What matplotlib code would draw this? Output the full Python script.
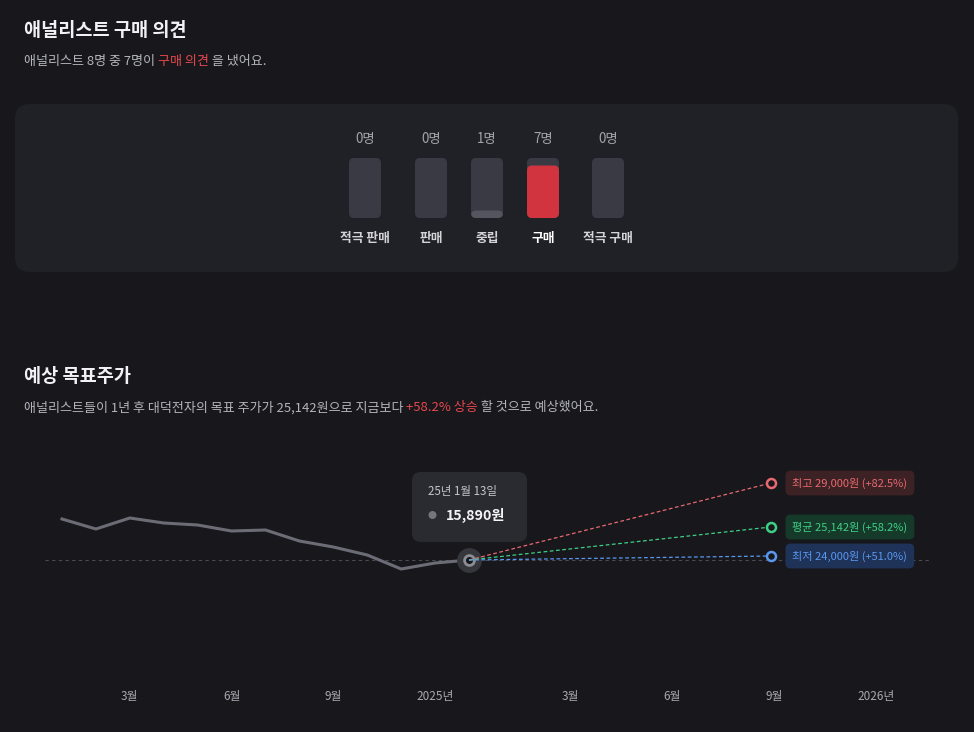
import numpy as np
import matplotlib
matplotlib.use("Agg")
import matplotlib.pyplot as plt
from matplotlib.patches import FancyBboxPatch, Circle
from matplotlib.scale import FuncScale
from matplotlib.text import Annotation

plt.rcParams['font.family'] = ['Noto Sans CJK KR', 'DejaVu Sans']

# ---- 데이터 ----
opinion_labels = ['적극 판매', '판매', '중립', '구매', '적극 구매']
opinion_counts = [0, 0, 1, 7, 0]
analyst_total = 8

month_idx = np.arange(13)
prices = [18760, 18060, 18830, 18480, 18340, 17920, 17990,
          17220, 16800, 16240, 15260, 15680, 15890]
last_date = '25년 1월 13일'

target_names = ['최고', '평균', '최저']
target_values = [29000, 25142, 24000]
target_pct = [82.5, 58.2, 51.0]

tick_pos = [2, 5, 8, 11, 15, 18, 21, 24]
tick_labels = ['3월', '6월', '9월', '2025년', '3월', '6월', '9월', '2026년']

# ---- 스타일 ----
BG = '#17171c'
CARD = '#202027'
W, H = 974, 732

def fx(px):
    return px / W

def fy(py):
    return 1 - py / H

fig = plt.figure(figsize=(9.74, 7.32), dpi=100, facecolor=BG)

def colored_line(x, y, parts, size, weight='normal'):
    prev = fig.text(fx(x), fy(y), parts[0][0], color=parts[0][1],
                    fontsize=size, weight=weight, va='center', ha='left')
    for txt, col in parts[1:]:
        prev = fig.add_artist(Annotation(txt, xy=(1, 0.5), xycoords=prev,
                                         va='center', ha='left', color=col,
                                         fontsize=size, weight=weight))
    return prev

# ---- 구매 의견 섹션 ----
fig.text(fx(24), fy(30), '애널리스트 구매 의견', fontsize=13.4, weight='bold',
         color='#f2f2f4', va='center')
buy_n = opinion_counts[3]
colored_line(24, 61, [(f'애널리스트 {analyst_total}명 중 {buy_n}명이 ', '#b4b4bc'),
                      ('구매 의견', '#e5484d'),
                      (' 을 냈어요.', '#b4b4bc')], 9.4)

card = FancyBboxPatch((0.15, (H - 272) / 100), 9.43, 1.68,
                      boxstyle='round,pad=0,rounding_size=0.15',
                      transform=fig.dpi_scale_trans, fc=CARD, ec='none', zorder=-1)
fig.patches.append(card)

slot_x = [365, 431, 487, 543, 608]
bar_w = 32
axb = fig.add_axes([fx(300), fy(218), fx(380), (218 - 158) / H])
axb.set_xlim(300, 680)
axb.set_ylim(0, analyst_total)
axb.axis('off')
aspect = analyst_total / 60.0
top_i = int(np.argmax(opinion_counts))
for i, (xc, n, lab) in enumerate(zip(slot_x, opinion_counts, opinion_labels)):
    axb.add_patch(FancyBboxPatch((xc - bar_w / 2, 0), bar_w, analyst_total,
                                 boxstyle='round,pad=0,rounding_size=5',
                                 mutation_aspect=aspect, fc='#3a3a44', ec='none'))
    if n > 0:
        col = '#d1333f' if i == top_i else '#55555f'
        axb.add_patch(FancyBboxPatch((xc - bar_w / 2, 0), bar_w, n,
                                     boxstyle='round,pad=0,rounding_size=5',
                                     mutation_aspect=aspect, fc=col, ec='none'))
    axb.annotate(f'{n}명', (xc, analyst_total), xytext=(0, 14), textcoords='offset points',
                 ha='center', va='center', fontsize=9.6, color='#a4a4ac',
                 annotation_clip=False)
    axb.annotate(lab, (xc, 0), xytext=(0, -15), textcoords='offset points',
                 ha='center', va='center', fontsize=9.2, weight='bold',
                 color='#ffffff' if i == top_i else '#d4d4d8', annotation_clip=False)

# ---- 목표주가 섹션 ----
fig.text(fx(24), fy(376), '예상 목표주가', fontsize=13.4, weight='bold',
         color='#f2f2f4', va='center')
avg = target_values[1]
colored_line(24, 408, [(f'애널리스트들이 1년 후 대덕전자의 목표 주가가 {avg:,}원으로 지금보다 ', '#b4b4bc'),
                       (f'+{target_pct[1]}% 상승', '#e5484d'),
                       (' 할 것으로 예상했어요.', '#b4b4bc')], 9.4)

ax = fig.add_axes([fx(45), fy(682), fx(930 - 45), (682 - 440) / H])
ax.set_facecolor('none')
px_month = (469 - 62) / 12.0
ax.set_xlim((45 - 62) / px_month, (930 - 62) / px_month)
won_px = 70.0
cur = prices[-1]
ax.set_ylim(cur - 122 * won_px, cur + 120 * won_px)
for s in ax.spines.values():
    s.set_visible(False)
ax.set_yticks([])
ax.set_xticks(tick_pos)
ax.set_xticklabels(tick_labels)
ax.tick_params(axis='x', length=0, pad=6, labelsize=8.5, labelcolor='#a8a8b0')

ax.axhline(cur, color='#4a4a52', lw=0.8, dashes=(3, 3), zorder=1)
ax.plot(month_idx, prices, color='#6c6c76', lw=2.2, zorder=3, solid_joinstyle='round')

# 목표가 쪽은 원본처럼 압축된 세로 눈금을 사용
knot_v = [0, cur, target_values[2], target_values[1], target_values[0], 100000]
knot_u = [-cur / won_px, 0, 4, 33, 77, 77 + (100000 - target_values[0]) / won_px]
fwd = lambda v: np.interp(v, knot_v, knot_u)
inv = lambda u: np.interp(u, knot_u, knot_v)
ax2 = ax.twinx()
ax2.set_yscale(FuncScale(ax2, (fwd, inv)))
ax2.set_ylim(inv(-122), inv(120))
ax2.axis('off')

target_x = 20.9
colors = ['#e8696f', '#3fcf86', '#5a98f0']
box_fc = ['#3c2224', '#163a29', '#1f3257']
for name, v, p, c, bfc in zip(target_names, target_values, target_pct, colors, box_fc):
    ax2.plot([month_idx[-1], target_x], [cur, v], color=c, lw=0.9, dashes=(3, 2), zorder=2)
    ax2.scatter([target_x], [v], s=42, facecolor=BG, edgecolor=c, linewidth=1.8, zorder=5)
    ax2.annotate(f'{name} {v:,}원 (+{p:.1f}%)', (target_x, v), xytext=(15.5, 0),
                 textcoords='offset points', ha='left', va='center', fontsize=8,
                 color=c, annotation_clip=False,
                 bbox=dict(boxstyle='round,pad=0.62,rounding_size=0.45', fc=bfc, ec='none'))

ax.scatter([month_idx[-1]], [cur], s=320, color='#36363d', zorder=4, linewidth=0)
ax.scatter([month_idx[-1]], [cur], s=50, facecolor=BG, edgecolor='#8c8c94',
           linewidth=2, zorder=6)

# 툴팁
tip = FancyBboxPatch((4.12, (H - 542) / 100), 1.15, 0.70,
                     boxstyle='round,pad=0,rounding_size=0.09',
                     transform=fig.dpi_scale_trans, fc='#2a2a31', ec='none', zorder=7)
fig.patches.append(tip)
fig.text(fx(428), fy(492), last_date, fontsize=8.3, color='#c4c4ca', va='center', zorder=8)
fig.patches.append(Circle((4.325, (H - 515) / 100), 0.04, transform=fig.dpi_scale_trans,
                          fc='#75757d', ec='none', zorder=8))
fig.text(fx(446), fy(515), f'{cur:,}원', fontsize=10.2, weight='bold',
         color='#f4f4f6', va='center', zorder=8)

fig.savefig('out.png', dpi=100, facecolor=BG)
